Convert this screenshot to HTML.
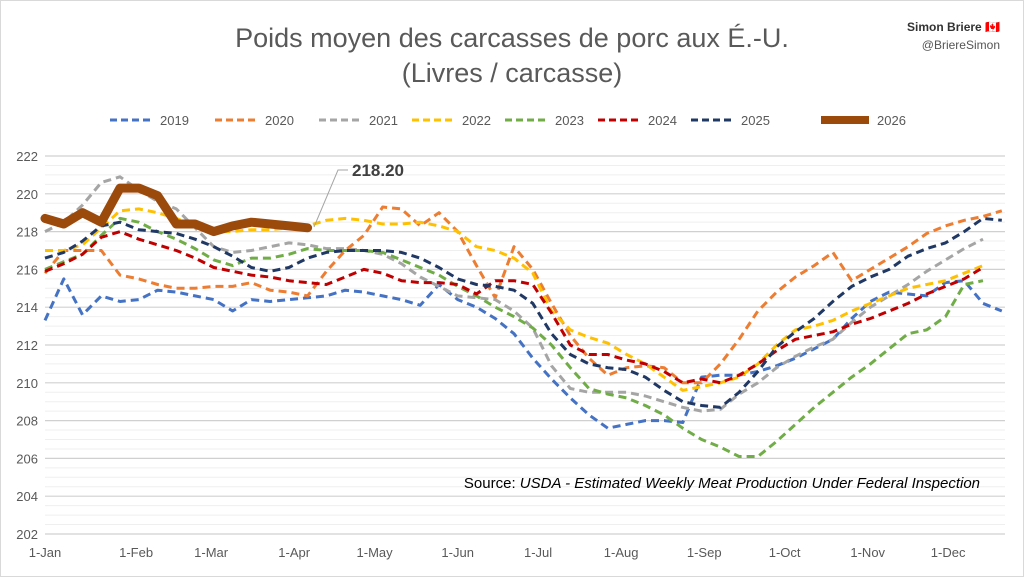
<!DOCTYPE html>
<html><head><meta charset="utf-8"><style>
body{margin:0;background:#fff;}
svg{display:block;font-family:"Liberation Sans",Calibri,sans-serif;}
</style></head><body>
<svg width="1024" height="577" viewBox="0 0 1024 577">
<rect x="0.5" y="0.5" width="1023" height="576" fill="#fff" stroke="#d9d9d9"/>
<text x="512" y="47" text-anchor="middle" font-size="27" fill="#595959">Poids moyen des carcasses de porc aux É.-U.</text>
<text x="512" y="82" text-anchor="middle" font-size="27" fill="#595959">(Livres / carcasse)</text>
<text x="1000" y="31" text-anchor="end" font-size="12" font-weight="bold" fill="#333">Simon Briere 🇨🇦</text>
<text x="1000" y="49" text-anchor="end" font-size="12" fill="#555">@BriereSimon</text>
<g id="grid"></g><g id="xaxis"></g><g id="legend"></g><g id="series"></g>
<polyline points="314,227 338,170 348,170" fill="none" stroke="#a6a6a6" stroke-width="1"/>
<text x="352" y="176" font-size="17" font-weight="bold" fill="#404040">218.20</text>
<text x="980" y="488" text-anchor="end" font-size="15" fill="#000">Source: <tspan font-style="italic">USDA - Estimated Weekly Meat Production Under Federal Inspection</tspan></text>
</svg>
<script>
const yTicks=[202,204,206,208,210,212,214,216,218,220,222];
const monthLabels=["1-Jan","1-Feb","1-Mar","1-Apr","1-May","1-Jun","1-Jul","1-Aug","1-Sep","1-Oct","1-Nov","1-Dec"];
const monthDays=[0,31,59,90,120,151,181,212,243,273,304,334];
const years=["2019","2020","2021","2022","2023","2024","2025","2026"];
const colors=["#4472c4","#ed7d31","#a5a5a5","#ffc000","#70ad47","#c00000","#203864","#9c4a0c"];
const s2019=[213.3,215.5,213.6,214.6,214.3,214.4,214.9,214.8,214.6,214.4,213.8,214.4,214.3,214.4,214.5,214.6,214.9,214.8,214.6,214.4,214.1,215.2,214.4,214.0,213.4,212.6,211.3,210.2,209.2,208.3,207.6,207.8,208.0,208.0,207.9,210.3,210.4,210.4,210.6,210.9,211.3,211.8,212.3,213.4,214.3,214.8,214.7,214.6,215.3,215.4,214.2,213.8];
const s2020=[215.8,217.0,217.0,217.0,215.7,215.5,215.2,215.0,215.0,215.1,215.1,215.3,214.9,214.8,214.6,215.9,217.0,217.8,219.3,219.2,218.3,219.0,218.0,216.2,214.5,217.2,216.0,214.2,212.5,211.3,210.4,210.8,210.9,210.8,210.0,210.0,211.0,212.3,213.8,214.8,215.6,216.2,216.9,215.4,216.0,216.6,217.2,217.9,218.3,218.6,218.8,219.1];
const s2021=[218.0,218.5,219.4,220.6,220.9,220.2,219.6,219.2,218.2,217.2,216.9,217.0,217.2,217.4,217.3,217.1,217.1,217.0,216.8,216.3,215.6,215.1,214.6,214.5,214.4,213.8,212.9,210.9,209.7,209.5,209.5,209.5,209.3,209.0,208.7,208.5,208.6,209.4,210.0,210.8,211.4,211.9,212.3,213.2,214.0,214.6,215.2,215.9,216.5,217.1,217.6];
const s2022=[217.0,217.0,217.3,218.2,219.1,219.2,219.0,218.7,218.3,218.0,218.0,218.1,218.1,218.2,218.3,218.6,218.7,218.6,218.4,218.4,218.5,218.3,218.0,217.2,217.0,216.6,215.8,213.8,212.8,212.4,212.1,211.5,211.0,210.3,209.6,209.8,210.0,210.3,211.0,212.0,212.8,213.0,213.3,213.8,214.2,214.6,215.0,215.2,215.4,215.8,216.2];
const s2023=[216.0,216.4,216.8,217.8,218.7,218.5,218.0,217.6,217.1,216.5,216.2,216.6,216.6,216.8,217.1,217.0,217.0,217.0,216.9,216.5,216.1,215.7,215.1,214.6,214.0,213.5,212.9,212.0,210.8,209.7,209.4,209.2,208.8,208.3,207.6,207.0,206.6,206.1,206.1,206.9,207.8,208.7,209.5,210.3,211.0,211.8,212.6,212.8,213.5,215.2,215.4];
const s2024=[215.9,216.3,216.8,217.7,218.0,217.6,217.3,217.0,216.6,216.1,215.9,215.7,215.6,215.4,215.3,215.2,215.6,216.0,215.8,215.4,215.3,215.3,215.2,214.7,215.4,215.4,215.2,213.7,212.0,211.5,211.5,211.2,211.0,210.6,210.0,210.2,210.0,210.4,211.0,211.7,212.3,212.5,212.7,213.1,213.4,213.8,214.2,214.7,215.1,215.5,216.1];
const s2025=[216.6,216.9,217.5,218.3,218.5,218.1,218.0,217.9,217.6,217.2,216.7,216.1,215.9,216.1,216.6,216.9,217.0,217.0,217.0,216.9,216.6,216.1,215.5,215.2,215.1,214.9,214.2,212.6,211.5,211.0,210.8,210.7,210.3,209.6,209.0,208.8,208.7,209.5,210.6,211.9,212.7,213.4,214.3,215.1,215.6,216.0,216.7,217.1,217.4,218.0,218.7,218.6];
const s2026=[218.7,218.4,219.0,218.5,220.3,220.3,219.9,218.4,218.4,218.0,218.3,218.5,218.4,218.3,218.2];
const allSeries=[s2019,s2020,s2021,s2022,s2023,s2024,s2025,s2026];
const NS="http://www.w3.org/2000/svg";
const x0=45,pxDay=2.68,yTop=156,yBot=534;
const xDay=d=>x0+d*pxDay;
const xWeek=i=>xDay(i*7);
const yv=v=>yBot-(v-202)/20*(yBot-yTop);
function mk(tag,attrs,parent){const e=document.createElementNS(NS,tag);for(const k in attrs)e.setAttribute(k,attrs[k]);parent.appendChild(e);return e;}
const grid=document.getElementById('grid');
for(let v=202;v<=222;v+=0.5){
  const major=v%2===0;
  const l=mk('line',{x1:x0,x2:1005,y1:yv(v),y2:yv(v),stroke:major?'#d0d0d0':'#efefef','stroke-width':major?1.2:1},grid);
  
  
}
yTicks.forEach(t=>{
  const tx=mk('text',{x:38,y:yv(t)+5,'text-anchor':'end','font-size':13,fill:'#595959'},grid);
  tx.textContent=t;
  
  
});
const xa=document.getElementById('xaxis');
monthLabels.forEach((m,i)=>{
  const tx=mk('text',{x:xDay(monthDays[i])+(i===0?0:8),y:557,'text-anchor':'middle','font-size':13,fill:'#595959'},xa);
  tx.textContent=m;
  
  
});
const lg=document.getElementById('legend');
const lx=[160,265,369,462,555,648,741,877];
years.forEach((y,i)=>{
  const g=mk('g',{},lg);
  
  
  const isB=i===7;
  mk('line',{x1:isB?lx[i]-56:lx[i]-50,x2:lx[i]-8,y1:120,y2:120,stroke:colors[i],'stroke-width':isB?8:3,'stroke-dasharray':isB?'none':'7 4'},g);
  const t=mk('text',{x:lx[i],y:125,'font-size':13,fill:'#595959'},g);
  t.textContent=y;
});
const sg=document.getElementById('series');
allSeries.forEach((s,i)=>{
  const pts=s.map((v,j)=>xWeek(j).toFixed(1)+','+yv(v).toFixed(1)).join(' ');
  const isB=i===7;
  const p=mk('polyline',{points:pts,fill:'none',stroke:colors[i],'stroke-width':isB?9:3,'stroke-dasharray':isB?'none':'8 5','stroke-linejoin':'round','stroke-linecap':isB?'round':'butt'},sg);
  
  
});
</script>
</body></html>
